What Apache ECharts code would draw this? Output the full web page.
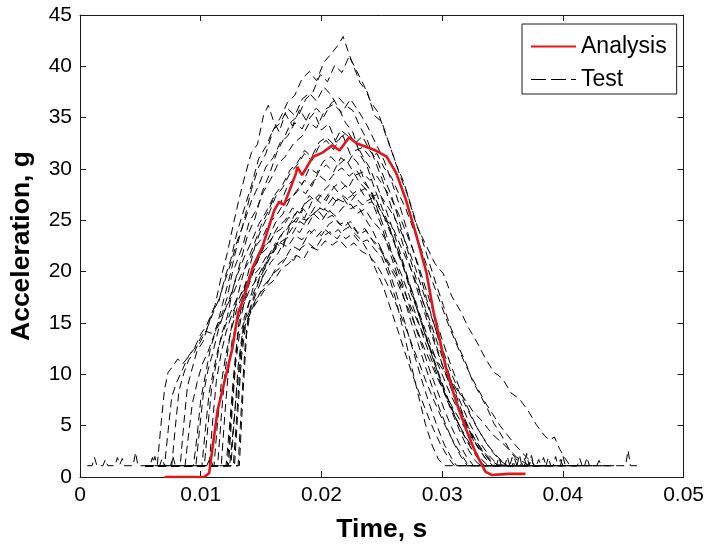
<!DOCTYPE html>
<html>
<head>
<meta charset="utf-8">
<script src="https://cdn.jsdelivr.net/npm/echarts@6/dist/echarts.min.js"></script>
<style>html,body{margin:0;padding:0;background:#fff;}#chart{width:707px;height:548px;}</style>
</head>
<body>
<div id="chart"></div>
<script>
// ---- tick labels ----
var xTickLabels = ['0', '0.01', '0.02', '0.03', '0.04', '0.05'];
var yTickLabels = ['0', '5', '10', '15', '20', '25', '30', '35', '40', '45'];

// ---- Analysis (red) : [time s, acceleration g] ----
var analysis = [[0.0070,0],[0.0103,0],[0.0107,0.4],[0.0114,6.5],[0.0126,12.4],[0.0131,16.0],[0.0135,17.2],[0.0143,20.4],[0.0151,22.4],[0.0161,26.0],[0.0165,26.8],[0.0169,26.5],[0.0179,29.6],[0.0180,30.2],[0.0184,29.4],[0.0193,31.2],[0.0201,31.6],[0.0209,32.3],[0.0215,31.8],[0.0223,33.1],[0.0229,32.5],[0.0245,31.8],[0.0254,31.2],[0.0262,29.6],[0.0270,27.0],[0.0278,23.8],[0.0287,19.9],[0.0293,16.0],[0.0295,15.0],[0.0303,10.7],[0.0312,7.2],[0.0320,4.6],[0.0328,2.3],[0.0336,0.5],[0.0341,0.2],[0.0355,0.3],[0.0369,0.3]];

// ---- Test curves (black dashed) : [time s, acceleration g] ----
var test01 = [[0.0006,1.1],[0.0010,1.1],[0.0012,1.9],[0.0014,1.1],[0.0019,1.1],[0.0021,1.7],[0.0023,1.1],[0.0029,1.1],[0.0031,1.9],[0.0033,1.2],[0.0035,1.8],[0.0037,1.1],[0.0044,1.1],[0.0046,2.4],[0.0048,1.1],[0.0054,1.1],[0.0058,1.1],[0.0060,1.9],[0.0062,1.1],[0.0075,1.1],[0.0077,2.0],[0.0079,1.1],[0.0105,1.1],[0.0108,1.9],[0.0110,1.1],[0.0124,1.1],[0.0128,6],[0.0132,11],[0.0136,15.5],[0.0140,17],[0.0146,19.5],[0.0150,19],[0.0156,21.5],[0.0162,22.8],[0.0168,22.3],[0.0174,24.5],[0.0180,25.3],[0.0188,25],[0.0195,26.4],[0.0202,26],[0.0210,27.3],[0.0218,26.8],[0.0226,27.5],[0.0234,26.5],[0.0242,26.8],[0.0250,25.2],[0.0258,24.6],[0.0266,22.4],[0.0274,20.3],[0.0282,17.8],[0.0290,15.2],[0.0298,12.4],[0.0306,9.8],[0.0314,7.6],[0.0322,5.4],[0.0330,3.6],[0.0338,2.2],[0.0346,1.2],[0.0356,1.1],[0.0358,1.9],[0.0360,1.1],[0.0372,1.1],[0.0374,1.8],[0.0376,1.1],[0.0390,1.1]];
var test02 = [[0.0054,1.1],[0.0064,1.1],[0.0067,5],[0.0070,8.5],[0.0073,10.2],[0.0077,10.8],[0.0081,11.5],[0.0085,11],[0.0089,11.6],[0.0094,12.4],[0.0099,13],[0.0104,14.2],[0.0109,14],[0.0113,14.6],[0.0118,16],[0.0122,17.5],[0.0126,19.8],[0.0130,21],[0.0135,22.6],[0.0140,24.8],[0.0146,26],[0.0152,27.8],[0.0158,29],[0.0164,30.5],[0.0170,31.2],[0.0177,32.5],[0.0184,33.2],[0.0190,34.5],[0.0196,34],[0.0203,35.8],[0.0210,36.3],[0.0217,35.5],[0.0224,36.8],[0.0231,35.6],[0.0238,34.2],[0.0245,32.5],[0.0252,30.8],[0.0259,28.5],[0.0266,26],[0.0273,23.2],[0.0280,20.5],[0.0287,17.4],[0.0294,14.6],[0.0301,11.8],[0.0308,9.2],[0.0315,6.8],[0.0322,4.7],[0.0329,3],[0.0336,1.8],[0.0342,1.1],[0.0360,1.1]];
var test03 = [[0.0054,1.1],[0.0066,1.1],[0.0068,1.8],[0.0070,1.1],[0.0094,1.1],[0.0097,4],[0.0100,7.5],[0.0104,10],[0.0108,12.5],[0.0113,14.5],[0.0118,16.8],[0.0124,19.5],[0.0130,22.5],[0.0136,25],[0.0142,28],[0.0148,30.2],[0.0154,31.5],[0.0160,33.8],[0.0166,35],[0.0172,36.5],[0.0178,37.2],[0.0184,38.8],[0.0190,39.5],[0.0196,38.6],[0.0202,40.4],[0.0208,41.2],[0.0214,42.1],[0.0218,42.9],[0.0222,41.5],[0.0226,40.2],[0.0232,38.4],[0.0238,37.5],[0.0244,35.2],[0.0250,34.6],[0.0256,32.5],[0.0262,30.4],[0.0268,28.8],[0.0274,26.5],[0.0280,24.2],[0.0287,22.5],[0.0294,20.8],[0.0301,19.8],[0.0308,17.6],[0.0315,16.2],[0.0322,14.5],[0.0329,13.1],[0.0336,11.5],[0.0343,10.2],[0.0350,9.6],[0.0357,8.2],[0.0364,7.6],[0.0371,6.5],[0.0378,5.1],[0.0385,4],[0.0389,3.6],[0.0393,3.9],[0.0397,2.8],[0.0402,1.8],[0.0406,1.1],[0.0420,1.1]];
var test04 = [[0.0054,1.1],[0.0060,1.1],[0.0062,2],[0.0064,1.1],[0.0103,1.1],[0.0106,5],[0.0109,8.6],[0.0113,11.2],[0.0117,13.8],[0.0122,15.6],[0.0127,18.5],[0.0133,21],[0.0139,23.6],[0.0145,25.2],[0.0151,27.8],[0.0157,29.5],[0.0163,31.6],[0.0169,33],[0.0175,34.6],[0.0181,35.2],[0.0187,36.8],[0.0193,37.5],[0.0199,39.2],[0.0205,38.5],[0.0211,40.1],[0.0217,39.4],[0.0223,41],[0.0229,39.6],[0.0235,38.2],[0.0241,36.5],[0.0247,35.5],[0.0253,33.4],[0.0259,31.5],[0.0265,29.4],[0.0271,27.6],[0.0277,25.2],[0.0283,23.3],[0.0289,21],[0.0295,18.8],[0.0301,16.7],[0.0307,14.6],[0.0313,12.8],[0.0319,11.3],[0.0325,9.4],[0.0331,8.1],[0.0337,6.8],[0.0343,5.2],[0.0349,4.1],[0.0355,2.8],[0.0361,1.8],[0.0366,1.1],[0.0410,1.1]];
var test05 = [[0.0054,1.1],[0.0070,1.1],[0.0073,4.5],[0.0076,7.8],[0.0080,9.2],[0.0085,10.5],[0.0090,11.8],[0.0095,12.6],[0.0100,13.9],[0.0105,14.8],[0.0110,16.2],[0.0115,17.1],[0.0120,19.4],[0.0125,21.2],[0.0130,23.8],[0.0136,26.1],[0.0142,28.4],[0.0148,31],[0.0154,32.2],[0.0160,33.8],[0.0166,34.5],[0.0172,35.9],[0.0178,35.2],[0.0184,36.8],[0.0190,37.4],[0.0196,36.6],[0.0202,38],[0.0208,37.2],[0.0214,36],[0.0220,34.5],[0.0226,33.6],[0.0232,31.4],[0.0238,30.2],[0.0244,28.1],[0.0250,26.3],[0.0256,24.5],[0.0262,22.2],[0.0268,20.4],[0.0274,18],[0.0280,16.1],[0.0286,13.8],[0.0292,11.7],[0.0298,9.6],[0.0304,7.5],[0.0310,5.8],[0.0316,4.1],[0.0322,2.6],[0.0328,1.5],[0.0332,1.1],[0.0370,1.1]];
var test06 = [[0.0054,1.1],[0.0083,1.1],[0.0086,5.2],[0.0089,8.8],[0.0093,10.6],[0.0097,12.3],[0.0102,13.2],[0.0107,15.1],[0.0112,16.8],[0.0117,19.5],[0.0122,21.8],[0.0127,24.6],[0.0132,27.2],[0.0137,29.5],[0.0142,31.6],[0.0147,32.4],[0.0152,35.2],[0.0156,36.2],[0.0160,34.8],[0.0165,33.6],[0.0170,35.4],[0.0176,34.2],[0.0182,35.8],[0.0188,34.6],[0.0194,35.5],[0.0200,33.8],[0.0206,34.4],[0.0212,32.6],[0.0218,33.2],[0.0224,31.4],[0.0230,30.6],[0.0236,28.8],[0.0242,27.5],[0.0248,25.6],[0.0254,23.5],[0.0260,21.2],[0.0266,19.3],[0.0272,17],[0.0278,14.6],[0.0284,12.5],[0.0290,10.3],[0.0296,8.4],[0.0302,6.5],[0.0308,4.8],[0.0314,3.3],[0.0320,2],[0.0326,1.1],[0.0360,1.1]];
var test07 = [[0.0054,1.1],[0.0122,1.1],[0.0125,5.5],[0.0128,10.2],[0.0131,14.5],[0.0135,17.8],[0.0140,20.2],[0.0145,22.5],[0.0150,24.1],[0.0156,25.5],[0.0162,27.3],[0.0168,28.2],[0.0174,29.6],[0.0180,30.4],[0.0186,31.5],[0.0192,30.8],[0.0198,32.2],[0.0204,32.8],[0.0210,31.9],[0.0216,33.1],[0.0222,33.6],[0.0228,32.5],[0.0234,33.2],[0.0240,31.8],[0.0246,30.9],[0.0252,29.1],[0.0258,27.4],[0.0264,25.1],[0.0270,22.6],[0.0276,20.3],[0.0282,17.9],[0.0288,15.5],[0.0294,13.2],[0.0300,11],[0.0306,9.1],[0.0312,7.2],[0.0318,5.6],[0.0324,4.1],[0.0330,2.8],[0.0336,1.8],[0.0342,1.1],[0.0352,1.1],[0.0354,2],[0.0356,1.1],[0.0390,1.1]];
var test08 = [[0.0054,1.1],[0.0096,1.1],[0.0099,4.6],[0.0102,7.9],[0.0106,10.4],[0.0110,12.1],[0.0115,14.5],[0.0120,16.2],[0.0125,17.8],[0.0130,19.6],[0.0136,21.4],[0.0142,22.9],[0.0148,24.6],[0.0154,25.8],[0.0160,27.2],[0.0166,26.6],[0.0172,28.4],[0.0178,29.1],[0.0184,28.5],[0.0190,30.1],[0.0196,29.6],[0.0202,30.8],[0.0208,31.2],[0.0214,30.4],[0.0220,31],[0.0226,29.8],[0.0232,28.6],[0.0238,27.9],[0.0244,26.2],[0.0250,24.4],[0.0256,22.1],[0.0262,20],[0.0268,17.6],[0.0274,15.2],[0.0280,13],[0.0286,10.8],[0.0292,8.7],[0.0298,6.6],[0.0304,4.8],[0.0310,3.2],[0.0316,1.9],[0.0321,1.1],[0.0366,1.1],[0.0368,1.8],[0.0370,1.1],[0.0400,1.1]];
var test09 = [[0.0054,1.1],[0.0127,1.1],[0.0130,6.2],[0.0133,11.5],[0.0136,14.8],[0.0140,16.9],[0.0145,18.3],[0.0150,19.8],[0.0156,21.5],[0.0162,22.4],[0.0168,23.8],[0.0174,24.6],[0.0180,25.9],[0.0186,25.2],[0.0192,26.8],[0.0198,27.5],[0.0204,26.9],[0.0210,28.2],[0.0216,28.8],[0.0222,28.1],[0.0228,29.4],[0.0234,29.7],[0.0240,28.9],[0.0246,29.3],[0.0252,28.2],[0.0258,27.1],[0.0264,25.6],[0.0270,23.9],[0.0276,22.1],[0.0282,20],[0.0288,17.8],[0.0294,15.6],[0.0300,13.4],[0.0306,11.3],[0.0312,9.4],[0.0318,7.6],[0.0324,6],[0.0330,4.6],[0.0336,3.4],[0.0342,2.4],[0.0348,1.6],[0.0354,1.1],[0.0372,1.1],[0.0374,2.1],[0.0376,1.1],[0.0382,1.1],[0.0384,1.9],[0.0386,1.1],[0.0420,1.1]];
var test10 = [[0.0054,1.1],[0.0131,1.1],[0.0134,7.5],[0.0137,13.2],[0.0140,16.1],[0.0144,17.6],[0.0149,19.4],[0.0154,20.5],[0.0160,22.1],[0.0166,23.5],[0.0172,24.2],[0.0178,25.6],[0.0184,26.2],[0.0190,27.4],[0.0196,26.8],[0.0202,27.9],[0.0208,28.6],[0.0214,27.7],[0.0220,28.4],[0.0226,27.6],[0.0232,28.1],[0.0238,26.9],[0.0244,27.3],[0.0250,25.8],[0.0256,24.4],[0.0262,22.5],[0.0268,20.6],[0.0274,18.4],[0.0280,16.2],[0.0286,14],[0.0292,11.9],[0.0298,9.8],[0.0304,7.9],[0.0310,6.1],[0.0316,4.5],[0.0322,3.2],[0.0328,2.1],[0.0334,1.1],[0.0345,1.1],[0.0347,2],[0.0349,1.1],[0.0380,1.1]];
var test11 = [[0.0054,1.1],[0.0111,1.1],[0.0114,5.4],[0.0117,9.1],[0.0121,12],[0.0125,14.2],[0.0130,16.4],[0.0135,17.8],[0.0140,19.5],[0.0146,20.8],[0.0152,22.3],[0.0158,23.1],[0.0164,24.4],[0.0170,25],[0.0176,26.2],[0.0182,25.7],[0.0188,26.8],[0.0194,27.3],[0.0200,26.6],[0.0206,27.6],[0.0212,26.9],[0.0218,27.2],[0.0224,26.1],[0.0230,26.5],[0.0236,25.2],[0.0242,24.1],[0.0248,22.6],[0.0254,20.8],[0.0260,18.7],[0.0266,16.3],[0.0272,13.9],[0.0278,11.5],[0.0284,9.1],[0.0290,6.9],[0.0296,4.9],[0.0302,3.1],[0.0308,1.8],[0.0312,1.1],[0.0350,1.1]];
var test12 = [[0.0054,1.1],[0.0117,1.1],[0.0120,6.1],[0.0123,10.4],[0.0126,13.3],[0.0130,15.1],[0.0135,16.6],[0.0140,18.1],[0.0146,19.2],[0.0152,20.6],[0.0158,21.4],[0.0164,22.7],[0.0170,23.2],[0.0176,24.3],[0.0182,23.8],[0.0188,25.1],[0.0194,25.6],[0.0200,24.9],[0.0206,26],[0.0212,25.4],[0.0218,26.3],[0.0224,26.6],[0.0230,25.7],[0.0236,26.1],[0.0242,25],[0.0248,24.2],[0.0254,22.9],[0.0260,21.4],[0.0266,19.8],[0.0272,17.9],[0.0278,15.9],[0.0284,13.8],[0.0290,11.8],[0.0296,9.9],[0.0302,8.1],[0.0308,6.5],[0.0314,5.1],[0.0320,3.8],[0.0326,2.7],[0.0332,1.8],[0.0338,1.1],[0.0362,1.1],[0.0364,2.2],[0.0366,1.1],[0.0378,1.1],[0.0380,1.7],[0.0382,1.1],[0.0405,1.1]];
var test13 = [[0.0054,1.1],[0.0128,1.1],[0.0131,6.8],[0.0134,11.9],[0.0137,14.6],[0.0141,16],[0.0146,17.2],[0.0152,18.6],[0.0158,19.4],[0.0164,20.7],[0.0170,21.3],[0.0176,22.5],[0.0182,22.1],[0.0188,23.4],[0.0194,24.1],[0.0200,23.5],[0.0206,24.6],[0.0212,25.1],[0.0218,24.3],[0.0224,24.9],[0.0230,23.8],[0.0236,24.2],[0.0242,23.1],[0.0248,22.5],[0.0254,21.2],[0.0260,20.1],[0.0266,18.8],[0.0272,17.1],[0.0278,15.6],[0.0284,14],[0.0290,12.6],[0.0296,11.3],[0.0302,10.2],[0.0308,9.3],[0.0314,8.2],[0.0320,7.4],[0.0326,6.3],[0.0332,5.6],[0.0338,4.7],[0.0344,3.9],[0.0350,3.3],[0.0356,2.6],[0.0362,1.9],[0.0368,1.4],[0.0372,1.1],[0.0392,1.1],[0.0394,2],[0.0396,1.1],[0.0412,1.1],[0.0414,1.8],[0.0416,1.1],[0.0440,1.1]];
var test14 = [[0.0054,1.1],[0.0101,1.1],[0.0104,4.8],[0.0107,8.2],[0.0111,10.6],[0.0115,12.8],[0.0120,14.6],[0.0125,16.1],[0.0130,17.4],[0.0136,18.2],[0.0142,19.5],[0.0148,20.2],[0.0154,21.4],[0.0160,21.9],[0.0166,22.8],[0.0172,22.4],[0.0178,23.5],[0.0184,23.1],[0.0190,24],[0.0196,23.4],[0.0202,24.2],[0.0208,23.6],[0.0214,24.1],[0.0220,23.2],[0.0226,23.7],[0.0232,22.8],[0.0238,23.1],[0.0244,22.2],[0.0250,21.4],[0.0256,19.6],[0.0262,17.1],[0.0268,14.2],[0.0274,11.1],[0.0280,8.1],[0.0286,5.2],[0.0292,3],[0.0297,1.7],[0.0302,1.1],[0.0335,1.1]];
var test15 = [[0.0054,1.1],[0.0125,1.1],[0.0128,5.9],[0.0131,10.8],[0.0134,13.6],[0.0138,15.2],[0.0143,16.4],[0.0149,17.5],[0.0155,18.6],[0.0161,19.2],[0.0167,20.3],[0.0173,20.8],[0.0179,21.6],[0.0185,21.2],[0.0191,22.4],[0.0197,22.1],[0.0203,23],[0.0209,22.6],[0.0215,23.1],[0.0221,22.3],[0.0227,22.8],[0.0233,22],[0.0239,21.6],[0.0245,20.8],[0.0251,19.6],[0.0257,18.2],[0.0263,16.5],[0.0269,14.8],[0.0275,12.9],[0.0281,11.1],[0.0287,9.2],[0.0293,7.5],[0.0299,5.9],[0.0305,4.4],[0.0311,3.1],[0.0317,2],[0.0322,1.1],[0.0355,1.1]];
var test16 = [[0.0054,1.1],[0.0087,1.1],[0.0090,4.2],[0.0093,7.1],[0.0097,9.2],[0.0101,10.9],[0.0106,12.2],[0.0111,13.8],[0.0116,15.1],[0.0121,16.5],[0.0127,17.9],[0.0133,19.6],[0.0139,20.8],[0.0145,22.4],[0.0151,23.3],[0.0157,24.8],[0.0163,25.5],[0.0169,26.7],[0.0175,27.2],[0.0181,28.1],[0.0187,27.6],[0.0193,28.8],[0.0199,29.3],[0.0205,28.7],[0.0211,29.6],[0.0217,30.1],[0.0223,29.3],[0.0229,29.9],[0.0235,28.7],[0.0241,27.9],[0.0247,26.4],[0.0253,25.1],[0.0259,23.2],[0.0265,21.5],[0.0271,19.4],[0.0277,17.5],[0.0283,15.3],[0.0289,13.4],[0.0295,11.4],[0.0301,9.7],[0.0307,8],[0.0313,6.6],[0.0319,5.2],[0.0325,4.1],[0.0331,3],[0.0337,2.1],[0.0343,1.4],[0.0347,1.1],[0.0386,1.1],[0.0388,1.9],[0.0390,1.1],[0.0398,1.1],[0.0400,2.1],[0.0402,1.1],[0.0430,1.1]];
var test17 = [[0.0054,1.1],[0.0121,1.1],[0.0124,5.1],[0.0127,9.6],[0.0130,13.2],[0.0134,15.9],[0.0139,18.4],[0.0144,20.1],[0.0150,21.9],[0.0156,23.2],[0.0162,24.8],[0.0168,25.6],[0.0174,27.1],[0.0180,27.8],[0.0186,28.9],[0.0192,28.3],[0.0198,29.8],[0.0204,30.4],[0.0210,29.7],[0.0216,31.1],[0.0222,30.6],[0.0228,31.8],[0.0234,32.1],[0.0240,31.2],[0.0246,31.5],[0.0252,30.1],[0.0258,29.2],[0.0264,27.6],[0.0270,26.1],[0.0276,24.2],[0.0282,22.4],[0.0288,20.3],[0.0294,18.4],[0.0300,16.5],[0.0306,14.6],[0.0312,12.9],[0.0318,11.3],[0.0324,9.8],[0.0330,8.5],[0.0336,7.2],[0.0342,6.1],[0.0348,5],[0.0354,4.1],[0.0360,3.2],[0.0366,2.4],[0.0372,1.7],[0.0377,1.1],[0.0418,1.1],[0.0420,1.9],[0.0422,1.1],[0.0428,1.1],[0.0430,1.6],[0.0432,1.1],[0.0452,1.1],[0.0454,2.6],[0.0456,1.1],[0.0465,1.1]];
var test18 = [[0.0054,1.1],[0.0107,1.1],[0.0110,5.6],[0.0113,9.4],[0.0117,12.1],[0.0121,14.1],[0.0126,15.9],[0.0131,17.2],[0.0137,18.8],[0.0143,19.9],[0.0149,21.6],[0.0155,22.3],[0.0161,23.7],[0.0167,24.2],[0.0173,25.3],[0.0179,24.8],[0.0185,26.1],[0.0191,25.4],[0.0197,26],[0.0203,25.1],[0.0209,25.5],[0.0215,24.6],[0.0221,24.9],[0.0227,23.8],[0.0233,23.1],[0.0239,21.9],[0.0245,20.2],[0.0251,18.6],[0.0257,16.5],[0.0263,14.4],[0.0269,12.2],[0.0275,10.1],[0.0281,8.2],[0.0287,6.3],[0.0293,4.6],[0.0299,3.1],[0.0305,1.9],[0.0310,1.1],[0.0345,1.1]];
var test19 = [[0.0054,1.1],[0.0132,1.1],[0.0135,8.1],[0.0138,13.9],[0.0142,16.7],[0.0147,18.2],[0.0152,19.6],[0.0158,20.9],[0.0164,21.8],[0.0170,23.1],[0.0176,23.7],[0.0182,24.9],[0.0188,24.4],[0.0194,25.7],[0.0200,26.3],[0.0206,25.8],[0.0212,26.9],[0.0218,27.4],[0.0224,26.8],[0.0230,27.7],[0.0236,28.1],[0.0242,27.3],[0.0248,27.6],[0.0254,26.5],[0.0260,25.4],[0.0266,23.9],[0.0272,22.2],[0.0278,20.3],[0.0284,18.1],[0.0290,16],[0.0296,13.9],[0.0302,11.9],[0.0308,10],[0.0314,8.3],[0.0320,6.8],[0.0326,5.4],[0.0332,4.2],[0.0338,3.1],[0.0344,2.2],[0.0350,1.5],[0.0354,1.1],[0.0368,1.1],[0.0370,2.3],[0.0372,1.1],[0.0396,1.1],[0.0398,1.7],[0.0400,1.1],[0.0445,1.1]];
var test20 = [[0.0054,1.1],[0.0114,1.1],[0.0117,5.8],[0.0120,10.1],[0.0124,13.6],[0.0128,16.3],[0.0133,18.8],[0.0138,20.9],[0.0144,22.6],[0.0150,24.5],[0.0156,25.9],[0.0162,27.6],[0.0168,28.5],[0.0174,29.9],[0.0180,30.6],[0.0186,31.8],[0.0192,31.2],[0.0198,32.6],[0.0204,33.1],[0.0210,32.4],[0.0216,33.8],[0.0222,33.2],[0.0228,32.6],[0.0234,31.3],[0.0240,30.1],[0.0246,28.4],[0.0252,26.5],[0.0258,24.5],[0.0264,22.3],[0.0270,20],[0.0276,17.6],[0.0282,15.3],[0.0288,13.1],[0.0294,11],[0.0300,9],[0.0306,7.2],[0.0312,5.6],[0.0318,4.1],[0.0324,2.8],[0.0330,1.8],[0.0335,1.1],[0.0370,1.1]];
var test21 = [[0.0054,1.1],[0.0123,1.1],[0.0126,6.4],[0.0129,11.1],[0.0132,13.8],[0.0136,15.1],[0.0141,16.2],[0.0147,17.6],[0.0153,18.4],[0.0159,19.7],[0.0165,20.3],[0.0171,21.4],[0.0177,21.1],[0.0183,22.3],[0.0189,22.8],[0.0195,22.2],[0.0201,23.4],[0.0207,23.9],[0.0213,23.2],[0.0219,24.1],[0.0225,24.5],[0.0231,23.6],[0.0237,24],[0.0243,22.9],[0.0249,22.1],[0.0255,20.8],[0.0261,19.5],[0.0267,17.8],[0.0273,16.1],[0.0279,14.4],[0.0285,12.6],[0.0291,11],[0.0297,9.4],[0.0303,8],[0.0309,6.7],[0.0315,5.5],[0.0321,4.4],[0.0327,3.4],[0.0333,2.5],[0.0339,1.7],[0.0344,1.1],[0.0358,1.1],[0.0360,1.8],[0.0362,1.1],[0.0385,1.1]];
var test22 = [[0.0054,1.1],[0.0076,1.1],[0.0079,4.9],[0.0082,8.4],[0.0086,10.1],[0.0090,11.4],[0.0095,12.2],[0.0100,13.6],[0.0105,14.4],[0.0110,15.9],[0.0115,17.3],[0.0120,19.1],[0.0125,20.8],[0.0130,22.9],[0.0136,24.8],[0.0142,26.9],[0.0148,28.4],[0.0154,30.2],[0.0160,31.1],[0.0166,32.6],[0.0172,33.2],[0.0178,34.5],[0.0184,33.9],[0.0190,35.4],[0.0196,35.9],[0.0202,35.1],[0.0208,36.4],[0.0214,37],[0.0220,36.2],[0.0226,35.7],[0.0232,34.1],[0.0238,32.8],[0.0244,30.9],[0.0250,29.1],[0.0256,27],[0.0262,24.8],[0.0268,22.5],[0.0274,20.3],[0.0280,18],[0.0286,15.8],[0.0292,13.6],[0.0298,11.6],[0.0304,9.7],[0.0310,7.9],[0.0316,6.3],[0.0322,4.8],[0.0328,3.5],[0.0334,2.4],[0.0340,1.5],[0.0344,1.1],[0.0378,1.1]];

var testCurves = [test01, test02, test03, test04, test05, test06, test07, test08, test09, test10, test11,
                  test12, test13, test14, test15, test16, test17, test18, test19, test20, test21, test22];

var FONT = 'Liberation Sans, Arial, Helvetica, sans-serif';
var chart = echarts.init(document.getElementById('chart'), null, {renderer: 'canvas'});

var series = testCurves.map(function (c) {
  return {
    name: 'Test', type: 'line', data: c, symbol: 'none', showSymbol: false,
    animation: false, silent: true, z: 2,
    itemStyle: {color: '#000'},
    lineStyle: {color: '#000', width: 1, type: [8, 5]}
  };
});
series.push({
  name: 'Analysis', type: 'line', data: analysis, symbol: 'none', showSymbol: false,
  animation: false, silent: true, z: 3,
  itemStyle: {color: '#e3141c'},
  lineStyle: {color: '#e3141c', width: 2.6, type: 'solid'}
});

function xFmt(v) { var i = Math.round(v / 0.01); return xTickLabels[i] !== undefined ? xTickLabels[i] : ''; }
function yFmt(v) { var i = Math.round(v / 5); return yTickLabels[i] !== undefined ? yTickLabels[i] : ''; }

var axisCommon = {
  axisLine: {show: true, onZero: false, lineStyle: {color: '#1a1a1a', width: 1}},
  axisTick: {show: true, inside: true, length: 6, lineStyle: {color: '#1a1a1a', width: 1}},
  splitLine: {show: false}
};

var hiddenSymbol = {color: 'rgba(0,0,0,0)', borderColor: 'rgba(0,0,0,0)', borderWidth: 0, opacity: 0};

chart.setOption({
  backgroundColor: '#fff',
  animation: false,
  grid: {left: 80, right: 22, top: 15, bottom: 71, containLabel: false},
  legend: {
    orient: 'vertical', left: 522, top: 24,
    backgroundColor: '#fff', borderColor: '#1a1a1a', borderWidth: 1,
    padding: [11, 10, 3, 8], itemGap: 10, itemWidth: 45, itemHeight: 14,
    textStyle: {fontFamily: FONT, fontSize: 23, color: '#000'},
    itemStyle: hiddenSymbol,
    data: [
      {name: 'Analysis', itemStyle: hiddenSymbol},
      {name: 'Test', itemStyle: hiddenSymbol, lineStyle: {type: [15, 5], width: 1, color: '#000'}}
    ]
  },
  xAxis: [
    Object.assign({}, axisCommon, {
      type: 'value', position: 'bottom', min: 0, max: 0.05, interval: 0.01,
      name: 'Time, s', nameLocation: 'middle', nameGap: 39,
      nameTextStyle: {fontFamily: FONT, fontSize: 26.5, fontWeight: 'bold', color: '#000'},
      axisLabel: {show: true, margin: 8, formatter: xFmt, fontFamily: FONT, fontSize: 21, color: '#000'}
    }),
    Object.assign({}, axisCommon, {
      type: 'value', position: 'top', min: 0, max: 0.05, interval: 0.01,
      axisLabel: {show: false}
    })
  ],
  yAxis: [
    Object.assign({}, axisCommon, {
      type: 'value', position: 'left', min: 0, max: 45, interval: 5,
      name: 'Acceleration, g', nameLocation: 'middle', nameGap: 45,
      nameTextStyle: {fontFamily: FONT, fontSize: 26.5, fontWeight: 'bold', color: '#000'},
      axisLabel: {show: true, margin: 8, formatter: yFmt, fontFamily: FONT, fontSize: 21, color: '#000'}
    }),
    Object.assign({}, axisCommon, {
      type: 'value', position: 'right', min: 0, max: 45, interval: 5,
      axisLabel: {show: false}
    })
  ],
  series: series
});
</script>
</body>
</html>
